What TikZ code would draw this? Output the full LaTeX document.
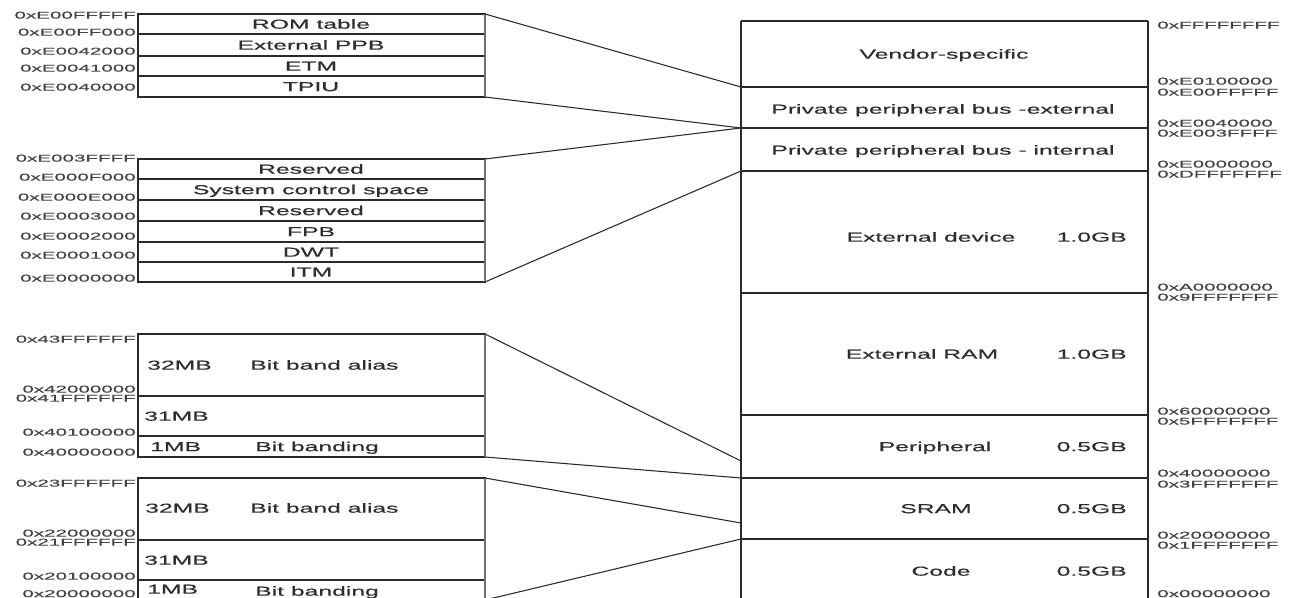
\documentclass[tikz,border=0pt]{standalone}
\usepackage{fontspec}
\setmainfont{Liberation Sans}
\newfontfamily\cellfont[FakeStretch=1.9,FakeBold=0.4]{Liberation Sans}
\newfontfamily\hexfont[FakeStretch=2.1,FakeBold=0.5]{Liberation Sans}
\definecolor{ink}{HTML}{2E2E2E}
\definecolor{edge}{HTML}{2A2A2A}
\definecolor{hexink}{HTML}{444444}
\definecolor{rim}{HTML}{707070}

\begin{document}
\begin{tikzpicture}[x=0.75pt,y=-0.75pt,
  frame/.style={draw=edge,line width=0.8pt},
  rimline/.style={draw=rim,line width=1.5pt},
  link/.style={draw=edge,line width=0.8pt},
  cell/.style={inner sep=0pt,text=ink,font=\cellfont\fontsize{9.75}{10}\selectfont,
               text height=7pt,text depth=0pt},
  cellw/.style={cell,anchor=west},
  celle/.style={cell,anchor=east},
  hexl/.style={inner sep=0pt,text=hexink,font=\hexfont\fontsize{7.35}{8}\selectfont,
               text height=5.3pt,text depth=0pt,anchor=east},
  hexr/.style={hexl,anchor=west},
]
\useasboundingbox (0,0) rectangle (1293,598);
\fill[white] (0,0) rectangle (1293,598);
\clip (0,0) rectangle (1293,598);

% ---------------- PPB external detail ----------------
\draw[frame] (138,14) rectangle (485,97);
\foreach \r in {34,56,76} \draw[frame] (138,\r) -- (485,\r);
\draw[rimline] (485,14) -- (485,97);
\node[cell] (romtab) at (311,24) {ROM table};
\node[cell] (extppb) at (311,45) {External PPB};
\node[cell] (etm)    at (311,66) {ETM};
\node[cell] (tpiu)   at (311,86.5) {TPIU};
\node[hexl] (a1) at (136,15) {0xE00FFFFF};
\node[hexl] (a2) at (136,32) {0xE00FF000};
\node[hexl] (a3) at (136,51) {0xE0042000};
\node[hexl] (a4) at (136,68) {0xE0041000};
\node[hexl] (a5) at (136,87) {0xE0040000};

% ---------------- PPB internal detail ----------------
\draw[frame] (138,159) rectangle (485,282);
\foreach \r in {179,200,221,242,262} \draw[frame] (138,\r) -- (485,\r);
\draw[rimline] (485,159) -- (485,282);
\node[cell] (res1) at (311,169) {Reserved};
\node[cell] (scs)  at (311,189.5) {System control space};
\node[cell] (res2) at (311,210.5) {Reserved};
\node[cell] (fpb)  at (311,231.5) {FPB};
\node[cell] (dwt)  at (311,252) {DWT};
\node[cell] (itm)  at (311,272) {ITM};
\node[hexl] (b1) at (136,158) {0xE003FFFF};
\node[hexl] (b2) at (136,177) {0xE000F000};
\node[hexl] (b3) at (136,197) {0xE000E000};
\node[hexl] (b4) at (136,216) {0xE0003000};
\node[hexl] (b5) at (136,236) {0xE0002000};
\node[hexl] (b6) at (136,255) {0xE0001000};
\node[hexl] (b7) at (136,278) {0xE0000000};

% ---------------- Peripheral bit band ----------------
\draw[frame] (138,334) rectangle (485,457);
\foreach \r in {396,436} \draw[frame] (138,\r) -- (485,\r);
\draw[rimline] (485,334) -- (485,457);
\node[cellw] (p32) at (147,365) {32MB};
\node[cellw] (pal) at (250,365) {Bit band alias};
\node[cellw] (p31) at (144,416) {31MB};
\node[cellw] (p1)  at (150,446.5) {1MB};
\node[cellw] (pbb) at (255,446.5) {Bit banding};
\node[hexl] (c1) at (136,339) {0x43FFFFFF};
\node[hexl] (c2) at (136,389) {0x42000000};
\node[hexl] (c3) at (136,398) {0x41FFFFFF};
\node[hexl] (c4) at (136,432) {0x40100000};
\node[hexl] (c5) at (136,452) {0x40000000};

% ---------------- SRAM bit band ----------------
\draw[frame] (138,478) rectangle (485,600);
\foreach \r in {540,580} \draw[frame] (138,\r) -- (485,\r);
\draw[rimline] (485,478) -- (485,600);
\node[cellw] (s32) at (145,508) {32MB};
\node[cellw] (sal) at (250,508) {Bit band alias};
\node[cellw] (s31) at (144,560) {31MB};
\node[cellw] (s1)  at (147,589) {1MB};
\node[cellw] (sbb) at (255,591) {Bit banding};
\node[hexl] (d1) at (136,483) {0x23FFFFFF};
\node[hexl] (d2) at (136,533) {0x22000000};
\node[hexl] (d3) at (136,542) {0x21FFFFFF};
\node[hexl] (d4) at (136,576) {0x20100000};
\node[hexl] (d5) at (136,593.5) {0x20000000};

% ---------------- 4GB memory map ----------------
\draw[frame] (741,21) -- (1148,21);
\draw[frame] (741,21) -- (741,610);
\draw[frame] (1148,21) -- (1148,610);
\foreach \r in {87,128,171,293,415,478,539} \draw[frame] (741,\r) -- (1148,\r);
\node[cell] (vend)  at (944,54) {Vendor-specific};
\node[cell] (ppbe)  at (943,109) {Private peripheral bus -external};
\node[cell] (ppbi)  at (943,150) {Private peripheral bus - internal};
\node[cell] (extd)  at (931,237) {External device};
\node[celle] (extdsz) at (1127,237) {1.0GB};
\node[cell] (extr)  at (922,354) {External RAM};
\node[celle] (extrsz) at (1127,354) {1.0GB};
\node[cell] (peri)  at (935,446.5) {Peripheral};
\node[celle] (perisz) at (1127,446.5) {0.5GB};
\node[cell] (sram)  at (936,508.5) {SRAM};
\node[celle] (sramsz) at (1127,508.5) {0.5GB};
\node[cell] (code)  at (941,571) {Code};
\node[celle] (codesz) at (1127,571) {0.5GB};

\node[hexr] (m1)  at (1157,25)  {0xFFFFFFFF};
\node[hexr] (m2)  at (1157,81)  {0xE0100000};
\node[hexr] (m3)  at (1157,92)  {0xE00FFFFF};
\node[hexr] (m4)  at (1157,123) {0xE0040000};
\node[hexr] (m5)  at (1157,133) {0xE003FFFF};
\node[hexr] (m6)  at (1157,164) {0xE0000000};
\node[hexr] (m7)  at (1157,174) {0xDFFFFFFF};
\node[hexr] (m8)  at (1157,287) {0xA0000000};
\node[hexr] (m9)  at (1157,297) {0x9FFFFFFF};
\node[hexr] (m10) at (1157,411) {0x60000000};
\node[hexr] (m11) at (1157,421) {0x5FFFFFFF};
\node[hexr] (m12) at (1157,473) {0x40000000};
\node[hexr] (m13) at (1157,484) {0x3FFFFFFF};
\node[hexr] (m14) at (1157,535) {0x20000000};
\node[hexr] (m15) at (1157,545) {0x1FFFFFFF};
\node[hexr] (m16) at (1157,593.5) {0x00000000};

% ---------------- zoom connectors ----------------
\coordinate (pex-top) at (485,14);
\coordinate (pex-bot) at (485,97);
\coordinate (pin-top) at (485,159);
\coordinate (pin-bot) at (485,282);
\coordinate (pbb-top) at (485,334);
\coordinate (pbb-bot) at (485,457);
\coordinate (sbb-top) at (485,478);
\coordinate (sbb-bot) at (485,600);
\coordinate (map-ext)   at (741,87);
\coordinate (map-mid)   at (741,128);
\coordinate (map-int)   at (741,171);
\coordinate (map-palias) at (741,461);
\coordinate (map-pbase) at (741,478);
\coordinate (map-salias) at (741,523);
\coordinate (map-sbase) at (741,539);

\draw[link] (pex-top) -- (map-ext);
\draw[link] (pex-bot) -- (map-mid);
\draw[link] (pin-top) -- (map-mid);
\draw[link] (pin-bot) -- (map-int);
\draw[link] (pbb-top) -- (map-palias);
\draw[link] (pbb-bot) -- (map-pbase);
\draw[link] (sbb-top) -- (map-salias);
\draw[link] (sbb-bot) -- (map-sbase);
\end{tikzpicture}
\end{document}
